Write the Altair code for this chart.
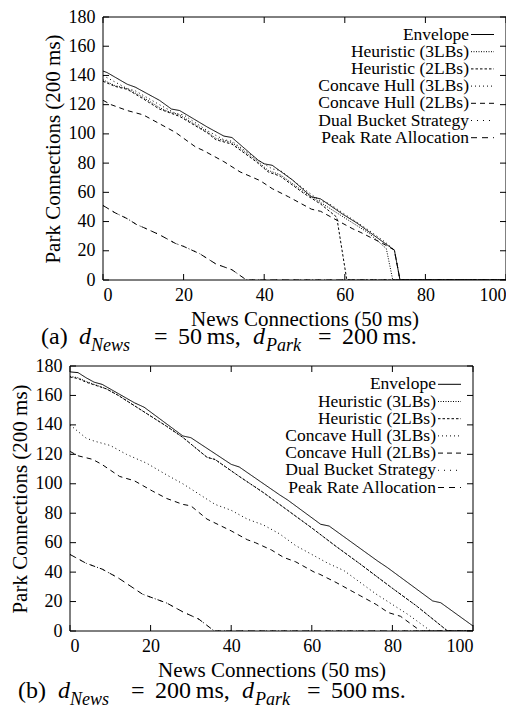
import altair as alt
import pandas as pd

SERIES = ["Envelope", "Heuristic (3LBs)", "Heuristic (2LBs)", "Concave Hull (3LBs)",
          "Concave Hull (2LBs)", "Dual Bucket Strategy", "Peak Rate Allocation"]
XTICKS = [0, 20, 40, 60, 80, 100]
YTICKS = [0, 20, 40, 60, 80, 100, 120, 140, 160, 180]
X_TITLE = "News Connections (50 ms)"
Y_TITLE = "Park Connections (200 ms)"

# ---------- panel (a) ----------
A_ENV_X = [0, 1, 6, 8, 14, 17, 19, 26, 30, 32, 38.5, 40, 42, 47, 51.7, 54, 59.5, 63, 69, 72.3, 73.7, 100]
A_ENV_Y = [143, 142, 134, 132, 123, 117, 116, 104.5, 98.5, 97.5, 82, 79.5, 78.5, 68.5, 57, 55.5, 45, 39, 27, 20.5, 0, 0]
A_H3_X = [0, 3, 6, 10, 14, 16, 19, 26, 28, 32, 38, 41, 44, 50, 54, 58, 62, 66, 70.3, 71.9, 100]
A_H3_Y = [137, 133, 131, 125, 118, 115.5, 113, 101, 97, 94, 82, 75, 72, 60, 53, 46, 39, 32, 21.5, 0, 0]
A_H2_X = [0, 3, 6, 10, 14, 16, 19, 26, 28, 32, 38, 41, 44, 50, 54, 58, 60.5, 100]
A_H2_Y = [136, 132.5, 130.5, 124, 117, 115, 112, 100.5, 96, 93, 81, 74, 71, 59, 52, 43, 0, 0]
A_C3_X = [0, 2, 6, 8, 14, 18, 20, 26, 30, 32, 38, 42, 44, 50, 54, 56, 60, 66, 70, 72.3, 73.7, 100]
A_C3_Y = [140, 137, 131, 129.5, 120, 114, 113, 102, 96, 95, 83, 76, 75, 62, 54, 52.5, 45, 34, 26, 20.5, 0, 0]
A_C2_X = [0, 2, 6, 10, 14, 18, 23, 25, 30, 34, 39, 42, 46, 51.7, 54, 58.3, 62, 64, 66.5, 69, 72.3, 73.7, 100]
A_C2_Y = [123, 120, 116, 113, 107, 101, 91, 88.5, 81, 74, 68, 62.5, 57, 48.5, 47, 40.5, 35, 32.5, 29, 25.6, 20.5, 0, 0]
A_DB_X = [0, 3, 6, 8.3, 10, 14, 18, 20, 24, 28, 30, 32, 35.6, 100]
A_DB_Y = [51, 46, 42, 38, 36, 31, 25, 23, 18, 11, 9, 7, 0, 0]
A_PR_X = [0, 3, 6, 8.3, 10, 14, 18, 20, 24, 28, 30, 32, 35.6, 100]
A_PR_Y = [51, 46, 42, 38, 36, 31, 25, 23, 18, 11, 9, 7, 0, 0]

# ---------- panel (b) ----------
B_ENV_X = [0, 2, 4, 6, 8, 16, 18.4, 28, 30, 40, 42, 52, 54, 62.2, 64.3, 76.3, 78.8, 90, 92, 100]
B_ENV_Y = [176, 175.5, 172, 169, 167.5, 155, 152, 132.5, 131.3, 113.2, 111.4, 92.5, 89, 72.5, 71.3, 47.6, 43, 20.4, 19.2, 3.4]
B_H3_X = [0, 2, 4, 9, 12, 16, 20, 24, 28, 34, 36, 42, 48, 54, 60, 66, 72, 80, 86, 93.7, 100]
B_H3_Y = [173, 172, 169.5, 164.5, 160, 153, 146, 139, 131.5, 118, 116.5, 105, 94, 82, 70, 57.5, 45.5, 29, 17, 0, 0]
B_H2_X = [0, 2, 4, 9, 12, 16, 20, 24, 28, 34, 36, 42, 48, 54, 60, 66, 72, 80, 86, 93.7, 100]
B_H2_Y = [172.5, 171.5, 169, 164.5, 160, 153, 146, 139, 131.5, 118, 116.5, 105, 94, 82, 70, 57.5, 45.5, 29, 17, 0, 0]
B_C3_X = [0, 4, 6, 10, 14, 19, 24, 28, 32, 36, 40, 44, 48, 52, 56, 60, 64, 68, 72, 76, 80, 84, 86, 89.5, 100]
B_C3_Y = [140, 131, 129, 126, 120, 114, 106, 100, 93, 86, 82, 76, 72, 66, 58, 52, 46, 41, 33, 25, 18, 11, 7, 0, 0]
B_C2_X = [0, 2, 5.6, 8, 12.3, 16, 20.5, 24, 28, 30, 34, 40, 44, 46, 50, 53, 56, 60.6, 62, 66, 70, 72, 76, 79, 82, 87, 100]
B_C2_Y = [122, 119, 116.6, 113, 105, 102, 95, 90, 86, 85, 76, 68, 62, 60, 55, 50, 47, 40, 38.5, 33, 27, 24, 18, 12.5, 10, 0, 0]
B_DB_X = [0, 4, 8, 12, 18, 24, 28, 32, 35.8, 100]
B_DB_Y = [52, 46, 42, 36, 25, 19, 13, 8, 0, 0]
B_PR_X = [0, 4, 8, 12, 18, 24, 28, 32, 35.8, 100]
B_PR_Y = [52, 46, 42, 36, 25, 19, 13, 8, 0, 0]

# ---------- captions ----------
CAP_A = ["(a)", "d", "News", "=", "50\u2009ms,", "d", "Park", "=", "200\u2009ms."]
CAP_B = ["(b)", "d", "News", "=", "200\u2009ms,", "d", "Park", "=", "500\u2009ms."]
CAP_ITALIC = [False, True, True, False, False, True, True, False, False]
CAP_SUB = [False, False, True, False, False, False, True, False, False]

# ---------- layout / style ----------
FONT = "Liberation Serif"
W = 403
HA, HB = 263, 265
SHIFT_A = 33  # panel (a) sits further right than panel (b)
DASH = [[1, 0], [1, 1.5], [2.5, 2], [1, 3], [5, 4], [1, 5], [6, 5]]
CAP_A_X = [-62, -24, -12, 51, 75, 150, 163, 215, 239]
CAP_B_X = [-52, -12, 0, 61, 85, 172, 185, 237, 261]


def long_df(pairs):
    rows = []
    for name, (xs, ys) in zip(SERIES, pairs):
        for i, (x, y) in enumerate(zip(xs, ys)):
            rows.append(dict(series=name, x=x, y=y, i=i))
    return pd.DataFrame(rows)


def panel(df, H, legend_top, caption, cap_x, cap_base, off=0):
    L, R = off, off + W
    xs = alt.Scale(domain=[0, 100], range=[L, R], nice=False, zero=False)
    ys = alt.Scale(domain=[0, 180], nice=False, zero=False)
    xa = alt.Axis(values=XTICKS, title=X_TITLE, labelPadding=6, titlePadding=4,
                  titleX=L + W / 2)
    ya = alt.Axis(values=YTICKS, title=Y_TITLE, labelPadding=8, titlePadding=5,
                  offset=-off)
    dash = alt.Scale(domain=SERIES, range=DASH)
    lines = alt.Chart(df).mark_line(color="black", strokeWidth=1, clip=True).encode(
        x=alt.X("x:Q", scale=xs, axis=xa),
        y=alt.Y("y:Q", scale=ys, axis=ya),
        strokeDash=alt.StrokeDash("series:N", scale=dash, legend=None),
        detail="series:N",
        order="i:Q",
    )
    frame = alt.Chart(pd.DataFrame({"f": [0]})).mark_rect(
        filled=False, stroke="black", strokeWidth=1).encode(
        x=alt.value(L), x2=alt.value(R), y=alt.value(0), y2=alt.value(H))
    ydf = pd.DataFrame({"y": YTICKS})
    xdf = pd.DataFrame({"x": XTICKS})
    tl = alt.Chart(ydf).mark_rule(color="black").encode(
        y=alt.Y("y:Q", scale=ys, axis=ya), x=alt.value(L), x2=alt.value(L + 6))
    tr = alt.Chart(ydf).mark_rule(color="black").encode(
        y=alt.Y("y:Q", scale=ys, axis=ya), x=alt.value(R - 6), x2=alt.value(R))
    tb = alt.Chart(xdf).mark_rule(color="black").encode(
        x=alt.X("x:Q", scale=xs, axis=xa), y=alt.value(H - 6), y2=alt.value(H))
    tt = alt.Chart(xdf).mark_rule(color="black").encode(
        x=alt.X("x:Q", scale=xs, axis=xa), y=alt.value(0), y2=alt.value(6))

    ldf = pd.DataFrame({"series": SERIES, "row": list(range(len(SERIES)))})
    lg = alt.Chart(ldf).transform_calculate(
        y=f"180 - ({legend_top} + datum.row * 17.2) / {H} * 180")
    ltext = lg.mark_text(align="right", baseline="middle", font=FONT, fontSize=17.5,
                         color="black").encode(
        text="series:N", y=alt.Y("y:Q", scale=ys, axis=ya), x=alt.value(R - 37))
    lsym = lg.mark_rule(color="black", strokeWidth=1).encode(
        y=alt.Y("y:Q", scale=ys, axis=ya), x=alt.value(R - 35), x2=alt.value(R - 12),
        strokeDash=alt.StrokeDash("series:N", scale=dash, legend=None))

    layers = [lines, frame, tl, tr, tb, tt, ltext, lsym]
    for txt, px, it, sub in zip(caption, cap_x, CAP_ITALIC, CAP_SUB):
        layers.append(
            alt.Chart(pd.DataFrame({"t": [txt]})).mark_text(
                align="left", baseline="alphabetic", font=FONT,
                fontSize=18 if sub else 24, fontStyle="italic" if it else "normal",
                color="black").encode(
                text="t:N", x=alt.value(L + px),
                y=alt.value(cap_base + (7 if sub else 0))))
    return alt.layer(*layers).properties(width=W + off, height=H)


df_a = long_df([(A_ENV_X, A_ENV_Y), (A_H3_X, A_H3_Y), (A_H2_X, A_H2_Y), (A_C3_X, A_C3_Y),
                (A_C2_X, A_C2_Y), (A_DB_X, A_DB_Y), (A_PR_X, A_PR_Y)])
df_b = long_df([(B_ENV_X, B_ENV_Y), (B_H3_X, B_H3_Y), (B_H2_X, B_H2_Y), (B_C3_X, B_C3_Y),
                (B_C2_X, B_C2_Y), (B_DB_X, B_DB_Y), (B_PR_X, B_PR_Y)])

pa = panel(df_a, HA, 17.5, CAP_A, CAP_A_X, 327, off=SHIFT_A)
pb = panel(df_b, HB, 18.3, CAP_B, CAP_B_X, 332)

chart = alt.vconcat(pa, pb, spacing=0).properties(
    padding={"left": 0, "top": -1, "right": -1, "bottom": 0}
).configure_view(stroke="transparent").configure_axis(
    domain=False, ticks=False, tickSize=0, grid=False,
    labelFont=FONT, labelFontSize=18, labelColor="black",
    titleFont=FONT, titleFontSize=21, titleFontWeight="normal", titleColor="black",
)

chart.save("out.html", embed_options={"renderer": "svg", "actions": False})
